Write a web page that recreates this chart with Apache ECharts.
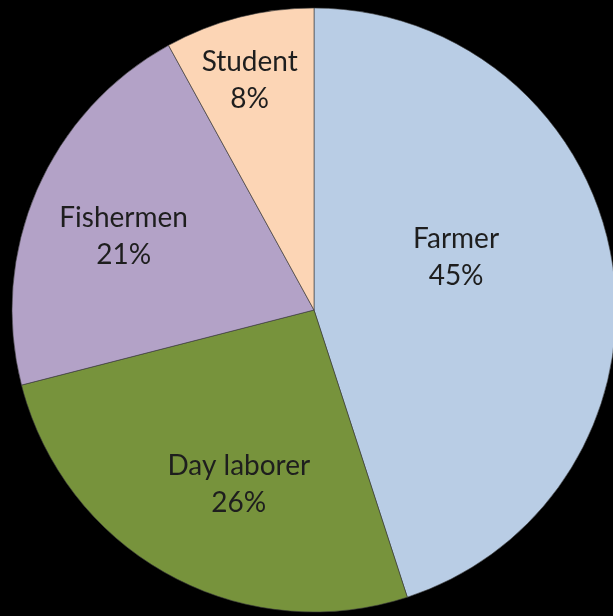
<!DOCTYPE html>
<html><head><meta charset="utf-8">
<script src="https://cdn.jsdelivr.net/npm/echarts@6/dist/echarts.min.js"></script>
<style>html,body{margin:0;padding:0;background:#000;}#c{width:613px;height:616px;}</style>
</head><body><div id="c"></div>
<script>
const categories = ['Farmer', 'Day laborer', 'Fishermen', 'Student'];
const values = [45, 26, 21, 8];
const colors = ['#B9CDE5', '#77933C', '#B3A2C7', '#FCD5B5'];
const labelShift = [[-10, -28], [-1, 40], [-49, -12], [-26, -80]];

const chart = echarts.init(document.getElementById('c'), null, {renderer: 'canvas'});
chart.setOption({
  backgroundColor: '#000',
  animation: false,
  series: [{
    type: 'pie',
    center: [314, 310],
    radius: [0, 302],
    startAngle: 90,
    clockwise: true,
    data: categories.map((n, i) => ({name: n, value: values[i], itemStyle: {color: colors[i]}})),
    itemStyle: {borderColor: 'rgba(60,60,60,0.6)', borderWidth: 1},
    label: {
      position: 'inside',
      formatter: p => p.name + '\n' + p.value + '%',
      fontFamily: 'Lato',
      fontSize: 28,
      lineHeight: 37,
      color: '#1e1e1e'
    },
    labelLayout: p => ({dx: labelShift[p.dataIndex][0], dy: labelShift[p.dataIndex][1]}),
    emphasis: {disabled: true}
  }]
});
</script></body></html>
